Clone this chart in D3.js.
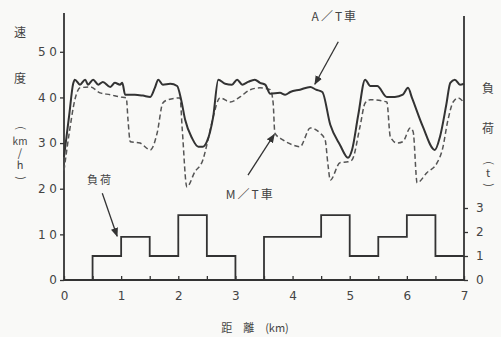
<!DOCTYPE html>
<html><head><meta charset="utf-8">
<script src="https://cdn.jsdelivr.net/npm/d3@7"></script>
<style>
html,body{margin:0;padding:0;background:#f9f9f7;}
svg{display:block;}
text{font-family:"Noto Sans CJK JP","Noto Sans",sans-serif;fill:#444;}
</style></head>
<body>
<svg id="c" width="501" height="337"></svg>
<script>
// ---- data ----
const atKm = [0,0.09,0.16,0.19,0.28,0.37,0.42,0.51,0.60,0.68,0.81,0.89,0.98,1.02,1.07,1.24,1.38,1.51,1.59,1.65,1.73,1.86,1.98,2.05,2.12,2.24,2.35,2.43,2.50,2.61,2.70,2.82,2.94,3.03,3.12,3.22,3.34,3.43,3.52,3.61,3.78,3.87,3.96,4.13,4.31,4.41,4.52,4.66,4.83,4.97,5.04,5.15,5.27,5.36,5.48,5.65,5.79,5.93,6.02,6.09,6.28,6.49,6.58,6.69,6.76,6.84,6.93,7.0];
const atSpeed = [27,36,43,43.9,42.8,43.9,42.8,43.9,42.8,43.4,42.3,43.2,42.8,43.2,40.6,40.6,40.4,40.1,42.1,43.9,42.8,43.0,42.5,39.5,35.1,31.1,29.2,29.2,30.3,35.7,43.9,43.0,42.8,43.9,42.8,43.4,43.9,43.2,42.8,40.8,41.0,40.6,41.2,41.7,42.3,41.7,41.2,34.0,29.6,26.8,28.5,36.2,43.9,42.5,42.5,40.1,40.1,40.6,42.1,39.9,33.6,28.5,31.4,38.4,43.2,43.9,42.8,43.0];

const mtKm = [0,0.1,0.19,0.28,0.46,0.63,0.81,0.98,1.09,1.12,1.16,1.33,1.51,1.63,1.73,1.82,2.03,2.07,2.15,2.29,2.43,2.52,2.61,2.73,2.91,3.08,3.26,3.43,3.61,3.66,3.69,3.83,4.0,4.13,4.31,4.48,4.57,4.62,4.66,4.83,4.97,5.04,5.18,5.27,5.36,5.65,5.71,5.83,5.93,6.06,6.11,6.18,6.35,6.53,6.62,6.72,6.81,6.9,7.0];
const mtSpeed = [24,32.9,39.5,42.1,42.3,41.0,40.6,40.1,39.9,35.1,30.3,30.0,28.5,32.2,38.8,39.5,39.9,32.9,20.4,23.7,26.3,30.7,35.7,39.9,39.0,40.1,41.7,42.1,41.7,38.8,32.2,30.7,29.6,29.2,33.3,32.2,30.7,25.2,21.9,25.7,25.9,26.3,33.6,38.8,39.5,39.0,31.4,30.0,30.3,33.3,32.5,21.3,23.5,25.7,28.5,35.1,39.0,39.9,38.8];

const loadKm = [0,0.5,1.0,1.5,2.0,2.5,3.0,3.5,4.5,5.0,5.5,6.0,6.5,7.0];
const loadT  = [0,1,1.8,1,2.7,1,0,1.8,2.7,1,1.8,2.7,1,1];

const xTicks = [0,1,2,3,4,5,6,7];
const xMinorTicks = [0,0.5,1,1.5,2,2.5,3,3.5,4,4.5,5,5.5,6,6.5,7];
const speedTicks = [0,10,20,30,40,50];
const loadTicks = [0,1,2,3];

// ---- scales ----
const svg = d3.select("#c");
const x = d3.scaleLinear().domain([0,7]).range([64,464]);
const yL = d3.scaleLinear().domain([0,58.5]).range([280,13]);
const yR = d3.scaleLinear().domain([0,11]).range([280,16]);
const ink = "#333";

// axes
const gL = svg.append("g").attr("transform","translate(64,0)")
  .call(d3.axisLeft(yL).tickValues(speedTicks).tickSize(4).tickPadding(3)
    .tickFormat(d => d===0 ? "0" : String(d).split("").join(" ")));
const gR = svg.append("g").attr("transform","translate(464,0)")
  .call(d3.axisRight(yR).tickValues(loadTicks).tickSize(4).tickPadding(8));
const gB = svg.append("g").attr("transform","translate(0,280)")
  .call(d3.axisBottom(x).tickValues(xMinorTicks).tickSize(-4).tickPadding(14)
    .tickFormat(d => xTicks.includes(d) ? d : ""));
[gL,gR,gB].forEach(g=>{
  g.select(".domain").attr("stroke",ink).attr("stroke-width",1.8);
  g.selectAll(".tick line").attr("stroke",ink).attr("stroke-width",1.3);
  g.selectAll(".tick text").attr("fill","#444")
    .style("font-family","'DejaVu Sans',sans-serif").style("font-size","12px");
});
gL.select(".domain").attr("d", `M0,${yL(0)}V${yL(58.5)}`);
gR.select(".domain").attr("d", `M0,${yR(0)}V${yR(11)}`);
gB.select(".domain").attr("d", `M${x(0)},0H${x(7)}`);
gB.selectAll(".tick text").attr("dy","0.5em");

// lines
const lineL = d3.line().x(d=>x(d[0])).y(d=>yL(d[1])).curve(d3.curveMonotoneX);
svg.append("path").datum(mtKm.map((k,i)=>[k,mtSpeed[i]]))
  .attr("d",lineL).attr("fill","none").attr("stroke","#555")
  .attr("stroke-width",1.5).attr("stroke-dasharray","5,3");
svg.append("path").datum(atKm.map((k,i)=>[k,atSpeed[i]]))
  .attr("d",lineL).attr("fill","none").attr("stroke",ink).attr("stroke-width",2);
const lineLoad = d3.line().x(d=>x(d[0])).y(d=>yR(d[1])).curve(d3.curveStepAfter);
svg.append("path").datum(loadKm.map((k,i)=>[k,loadT[i]]))
  .attr("d",lineLoad).attr("fill","none").attr("stroke",ink).attr("stroke-width",1.8);

// arrows
const defs = svg.append("defs");
defs.append("marker").attr("id","ah").attr("viewBox","0 0 10 10").attr("refX",9).attr("refY",5)
  .attr("markerWidth",7).attr("markerHeight",7).attr("orient","auto")
  .append("path").attr("d","M0,1L10,5L0,9Z").attr("fill",ink);
const arrows = [
  {from:[4.8,52.2], to:[4.39,42.9]},
  {from:[3.22,23.0], to:[3.68,31.9]},
  {from:[0.67,19.0], to:[0.93,9.6]}
];
arrows.forEach(a=>{
  svg.append("line").attr("x1",x(a.from[0])).attr("y1",yL(a.from[1]))
    .attr("x2",x(a.to[0])).attr("y2",yL(a.to[1]))
    .attr("stroke",ink).attr("stroke-width",1.3).attr("marker-end","url(#ah)");
});

// labels
const labels = [
  {t:"A／T車", k:4.74, v:57.4, s:12},
  {t:"M／T車", k:3.26, v:18.4, s:12},
  {t:"負荷", k:0.63, v:21.7, s:11}
];
labels.forEach(l=>{
  svg.append("text").attr("x",x(l.k)).attr("y",yL(l.v)).attr("text-anchor","middle")
    .attr("dominant-baseline","middle").style("font-size",l.s+"px").style("letter-spacing","2px").text(l.t);
});

// axis titles (vertical stacks); parentheses rotated as in vertical writing
function stack(items, xx){
  items.forEach(([t,yy,rot,fs])=>{
    svg.append("text").attr("transform",`translate(${xx},${yy}) rotate(${rot})`)
      .attr("text-anchor","middle").attr("dominant-baseline","middle")
      .style("font-size",fs+"px").text(t);
  });
}
stack([["速",34,0,12],["度",80,0,12],["(",128,90,11],["km",142,0,10],["/",154,0,11],["h",166,0,11],[")",178,90,11]], 20);
stack([["負",90,0,12],["荷",130,0,12],["(",163,90,11],["t",174,0,11],[")",185,90,11]], 488);
svg.append("text").attr("x",255).attr("y",329).attr("text-anchor","middle")
  .attr("dominant-baseline","middle").style("font-size","11px").text("距　離　(km)");
</script>
</body></html>
